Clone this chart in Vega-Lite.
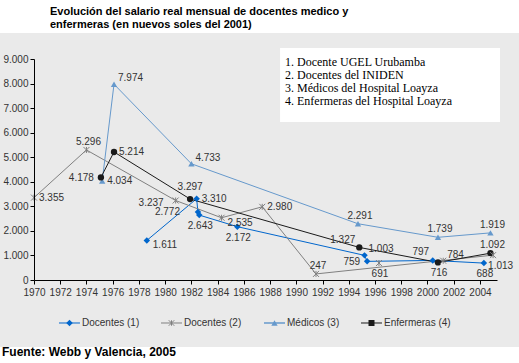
{
  "$schema": "https://vega.github.io/schema/vega-lite/v6.json",
  "width": 463,
  "height": 221,
  "autosize": {"type": "none"},
  "padding": {"left": 34, "top": 59, "right": 22, "bottom": 83},
  "background": "#FFFFFF",
  "config": {
    "view": {"stroke": null},
    "locale": {"number": {"decimal": ",", "thousands": ".", "grouping": [3], "currency": ["", ""]}},
    "font": "Liberation Sans",
    "axis": {"labelFont": "Liberation Sans", "labelFontSize": 10, "labelColor": "#333333", "domainColor": "#000000", "tickColor": "#000000", "grid": false, "title": null, "tickSize": 4},
    "axisX": {"tickCount": 18, "labelFlush": false, "labelPadding": 3},
    "axisY": {"tickCount": 10, "labelPadding": 2},
    "text": {"font": "Liberation Sans", "fontSize": 10, "fill": "#333333", "baseline": "middle"}
  },
  "data": {
    "values": [
      {"s": "Docentes (1)", "yr": 1978.6, "v": 1611},
      {"s": "Docentes (1)", "yr": 1982.4, "v": 3310},
      {"s": "Docentes (1)", "yr": 1982.5, "v": 2772},
      {"s": "Docentes (1)", "yr": 1982.6, "v": 2643},
      {"s": "Docentes (1)", "yr": 1985.5, "v": 2172},
      {"s": "Docentes (1)", "yr": 1995.2, "v": 1003},
      {"s": "Docentes (1)", "yr": 1995.4, "v": 759},
      {"s": "Docentes (1)", "yr": 2000.4, "v": 797},
      {"s": "Docentes (1)", "yr": 2004.3, "v": 688},
      {"s": "Docentes (2)", "yr": 1970.0, "v": 3355},
      {"s": "Docentes (2)", "yr": 1974.0, "v": 5296},
      {"s": "Docentes (2)", "yr": 1980.8, "v": 3237},
      {"s": "Docentes (2)", "yr": 1984.3, "v": 2535},
      {"s": "Docentes (2)", "yr": 1987.4, "v": 2980},
      {"s": "Docentes (2)", "yr": 1991.5, "v": 247},
      {"s": "Docentes (2)", "yr": 1996.3, "v": 691},
      {"s": "Docentes (2)", "yr": 2001.2, "v": 784},
      {"s": "Docentes (2)", "yr": 2005.0, "v": 1013},
      {"s": "Médicos (3)", "yr": 1975.2, "v": 4034},
      {"s": "Médicos (3)", "yr": 1976.1, "v": 7974},
      {"s": "Médicos (3)", "yr": 1982.0, "v": 4733},
      {"s": "Médicos (3)", "yr": 1994.7, "v": 2291},
      {"s": "Médicos (3)", "yr": 2000.8, "v": 1739},
      {"s": "Médicos (3)", "yr": 2004.8, "v": 1919},
      {"s": "Enfermeras (4)", "yr": 1975.1, "v": 4178},
      {"s": "Enfermeras (4)", "yr": 1976.1, "v": 5214},
      {"s": "Enfermeras (4)", "yr": 1981.9, "v": 3297},
      {"s": "Enfermeras (4)", "yr": 1994.8, "v": 1327},
      {"s": "Enfermeras (4)", "yr": 2000.8, "v": 716},
      {"s": "Enfermeras (4)", "yr": 2004.8, "v": 1092}
    ]
  },
  "layer": [
    {
      "data": {"values": [{}]},
      "mark": {"type": "rect", "fill": "#EAEAEA"},
      "encoding": {
        "x": {"datum": 1967.41, "type": "quantitative", "scale": {"domain": [1970, 2005.3], "nice": false, "zero": false},
          "axis": {"labelExpr": "'' + datum.value", "zindex": 1}},
        "x2": {"datum": 2006.98},
        "y": {"datum": 10059, "type": "quantitative", "scale": {"domain": [0, 9000], "nice": false},
          "axis": {"labelExpr": "datum.value == 0 ? '0' : floor(datum.value / 1000) + '.000'", "zindex": 1}},
        "y2": {"datum": -2728}
      }
    },
    {
      "data": {"values": [{}]},
      "mark": {"type": "rect", "fill": "#FFFFFF"},
      "encoding": {
        "x": {"datum": 1988.76, "type": "quantitative"},
        "x2": {"datum": 2005.53},
        "y": {"datum": 9448, "type": "quantitative"},
        "y2": {"datum": 6434}
      }
    },
    {
      "data": {"values": [{}]},
      "mark": {"type": "text", "font": "Liberation Serif", "fontSize": 12, "fill": "#000000", "align": "left", "baseline": "alphabetic", "lineHeight": 13.2,
        "text": ["1. Docente UGEL Urubamba", "2. Docentes del INIDEN", "3. Médicos del Hospital Loayza", "4. Enfermeras del Hospital Loayza"]},
      "encoding": {
        "x": {"datum": 1989.14, "type": "quantitative"},
        "y": {"datum": 8735, "type": "quantitative"}
      }
    },
    {
      "data": {"values": [{}]},
      "mark": {"type": "text", "font": "Liberation Sans", "fontSize": 11, "fontWeight": "bold", "fill": "#000000", "align": "left", "baseline": "alphabetic", "lineHeight": 13.6,
        "text": ["Evolución del salario real mensual de docentes medico y", "enfermeras (en nuevos soles del 2001)"]},
      "encoding": {
        "x": {"datum": 1971.22, "type": "quantitative"},
        "y": {"datum": 10804, "type": "quantitative"}
      }
    },
    {
      "data": {"values": [{}]},
      "mark": {"type": "text", "font": "Liberation Sans", "fontSize": 12, "fontWeight": "bold", "fill": "#000000", "align": "left", "baseline": "alphabetic", "text": "Fuente: Webb y Valencia, 2005"},
      "encoding": {
        "x": {"datum": 1967.56, "type": "quantitative"},
        "y": {"datum": -3095, "type": "quantitative"}
      }
    },
    {
      "transform": [{"filter": "datum.s != 'Docentes (2)' || (datum.v != 691 && datum.v != 784)"}],
      "mark": {"type": "line"},
      "encoding": {
        "x": {"field": "yr", "type": "quantitative"},
        "y": {"field": "v", "type": "quantitative"},
        "color": {"field": "s", "type": "nominal", "legend": null,
          "scale": {"domain": ["Docentes (1)", "Docentes (2)", "Médicos (3)", "Enfermeras (4)"], "range": ["#0066CC", "#808080", "#6699CC", "#1A1A1A"]}},
        "strokeWidth": {"field": "s", "type": "nominal", "legend": null,
          "scale": {"domain": ["Docentes (1)", "Docentes (2)", "Médicos (3)", "Enfermeras (4)"], "range": [1, 1, 1.5, 1]}},
        "order": {"field": "yr", "type": "quantitative"}
      }
    },
    {
      "transform": [{"filter": "datum.s == 'Docentes (1)'"}],
      "mark": {"type": "point", "filled": true, "opacity": 1, "size": 42, "shape": "diamond", "color": "#0066CC"},
      "encoding": {"x": {"field": "yr", "type": "quantitative"}, "y": {"field": "v", "type": "quantitative"}}
    },
    {
      "transform": [{"filter": "datum.s == 'Médicos (3)'"}],
      "mark": {"type": "point", "filled": true, "opacity": 1, "size": 40, "shape": "triangle-up", "color": "#6699CC"},
      "encoding": {"x": {"field": "yr", "type": "quantitative"}, "y": {"field": "v", "type": "quantitative"}}
    },
    {
      "transform": [{"filter": "datum.s == 'Enfermeras (4)'"}],
      "mark": {"type": "point", "filled": true, "opacity": 1, "size": 40, "shape": "circle", "color": "#1A1A1A"},
      "encoding": {"x": {"field": "yr", "type": "quantitative"}, "y": {"field": "v", "type": "quantitative"}}
    },
    {
      "transform": [{"filter": "datum.s == 'Docentes (2)'"}],
      "mark": {"type": "point", "filled": false, "opacity": 1, "size": 36, "stroke": "#808080", "strokeWidth": 1, "shape": "M-1,-1L1,1M-1,1L1,-1M0,-1L0,1"},
      "encoding": {"x": {"field": "yr", "type": "quantitative"}, "y": {"field": "v", "type": "quantitative"}}
    },
    {
      "encoding": {
        "x": {"field": "yr", "type": "quantitative"},
        "y": {"field": "v", "type": "quantitative"},
        "text": {"field": "v", "type": "quantitative", "format": ","}
      },
      "layer": [
        {"transform": [{"filter": {"field": "v", "oneOf": [3355, 2980, 5214, 4034, 3310]}}], "mark": {"type": "text", "align": "left", "dx": 5, "dy": 0}},
        {"transform": [{"filter": {"field": "v", "oneOf": [2535, 1611]}}], "mark": {"type": "text", "align": "left", "dx": 6, "dy": 5}},
        {"transform": [{"filter": {"field": "v", "oneOf": [784, 1003, 7974, 4733]}}], "mark": {"type": "text", "align": "left", "dx": 4, "dy": -6}},
        {"transform": [{"filter": {"field": "v", "oneOf": [4178, 759]}}], "mark": {"type": "text", "align": "right", "dx": -7, "dy": 1}},
        {"transform": [{"filter": {"field": "v", "oneOf": [3237]}}], "mark": {"type": "text", "align": "right", "dx": -12, "dy": 2}},
        {"transform": [{"filter": {"field": "v", "oneOf": [2772]}}], "mark": {"type": "text", "align": "right", "dx": -18, "dy": 0}},
        {"transform": [{"filter": {"field": "v", "oneOf": [1327]}}], "mark": {"type": "text", "align": "right", "dx": -4, "dy": -7}},
        {"transform": [{"filter": {"field": "v", "oneOf": [5296, 247, 2291, 1739, 1919, 1092]}}], "mark": {"type": "text", "align": "center", "dx": 2, "dy": -8}},
        {"transform": [{"filter": {"field": "v", "oneOf": [3297]}}], "mark": {"type": "text", "align": "center", "dx": 0, "dy": -12}},
        {"transform": [{"filter": {"field": "v", "oneOf": [797]}}], "mark": {"type": "text", "align": "center", "dx": -12, "dy": -8}},
        {"transform": [{"filter": {"field": "v", "oneOf": [691, 2643, 2172, 688, 716]}}], "mark": {"type": "text", "align": "center", "dx": 1, "dy": 11}},
        {"transform": [{"filter": {"field": "v", "oneOf": [1013]}}], "mark": {"type": "text", "align": "left", "dx": -5, "dy": 11}}
      ]
    },
    {
      "data": {"values": [{}]},
      "layer": [
        {"mark": {"type": "rule", "color": "#0066CC", "strokeWidth": 1}, "encoding": {"x": {"datum": 1971.906, "type": "quantitative"}, "x2": {"datum": 1973.507}, "y": {"datum": -1751, "type": "quantitative"}}},
        {"mark": {"type": "point", "shape": "diamond", "filled": true, "opacity": 1, "size": 42, "color": "#0066CC"}, "encoding": {"x": {"datum": 1972.707, "type": "quantitative"}, "y": {"datum": -1751, "type": "quantitative"}}},
        {"mark": {"type": "text", "align": "left", "text": "Docentes (1)"}, "encoding": {"x": {"datum": 1973.66, "type": "quantitative"}, "y": {"datum": -1751, "type": "quantitative"}}},
        {"mark": {"type": "rule", "color": "#808080", "strokeWidth": 1}, "encoding": {"x": {"datum": 1979.683, "type": "quantitative"}, "x2": {"datum": 1981.284}, "y": {"datum": -1751, "type": "quantitative"}}},
        {"mark": {"type": "point", "shape": "M-1,-1L1,1M-1,1L1,-1M0,-1L0,1", "filled": false, "opacity": 1, "size": 30, "stroke": "#808080", "strokeWidth": 1}, "encoding": {"x": {"datum": 1980.484, "type": "quantitative"}, "y": {"datum": -1751, "type": "quantitative"}}},
        {"mark": {"type": "text", "align": "left", "text": "Docentes (2)"}, "encoding": {"x": {"datum": 1981.436, "type": "quantitative"}, "y": {"datum": -1751, "type": "quantitative"}}},
        {"mark": {"type": "rule", "color": "#6699CC", "strokeWidth": 1.5}, "encoding": {"x": {"datum": 1987.536, "type": "quantitative"}, "x2": {"datum": 1989.137}, "y": {"datum": -1751, "type": "quantitative"}}},
        {"mark": {"type": "point", "shape": "triangle-up", "filled": true, "opacity": 1, "size": 40, "color": "#6699CC"}, "encoding": {"x": {"datum": 1988.336, "type": "quantitative"}, "y": {"datum": -1751, "type": "quantitative"}}},
        {"mark": {"type": "text", "align": "left", "text": "Médicos (3)"}, "encoding": {"x": {"datum": 1989.289, "type": "quantitative"}, "y": {"datum": -1751, "type": "quantitative"}}},
        {"mark": {"type": "rule", "color": "#1A1A1A", "strokeWidth": 1}, "encoding": {"x": {"datum": 1994.931, "type": "quantitative"}, "x2": {"datum": 1996.532}, "y": {"datum": -1751, "type": "quantitative"}}},
        {"mark": {"type": "point", "shape": "square", "filled": true, "opacity": 1, "size": 36, "color": "#1A1A1A"}, "encoding": {"x": {"datum": 1995.732, "type": "quantitative"}, "y": {"datum": -1751, "type": "quantitative"}}},
        {"mark": {"type": "text", "align": "left", "text": "Enfermeras (4)"}, "encoding": {"x": {"datum": 1996.684, "type": "quantitative"}, "y": {"datum": -1751, "type": "quantitative"}}}
      ]
    }
  ]
}
